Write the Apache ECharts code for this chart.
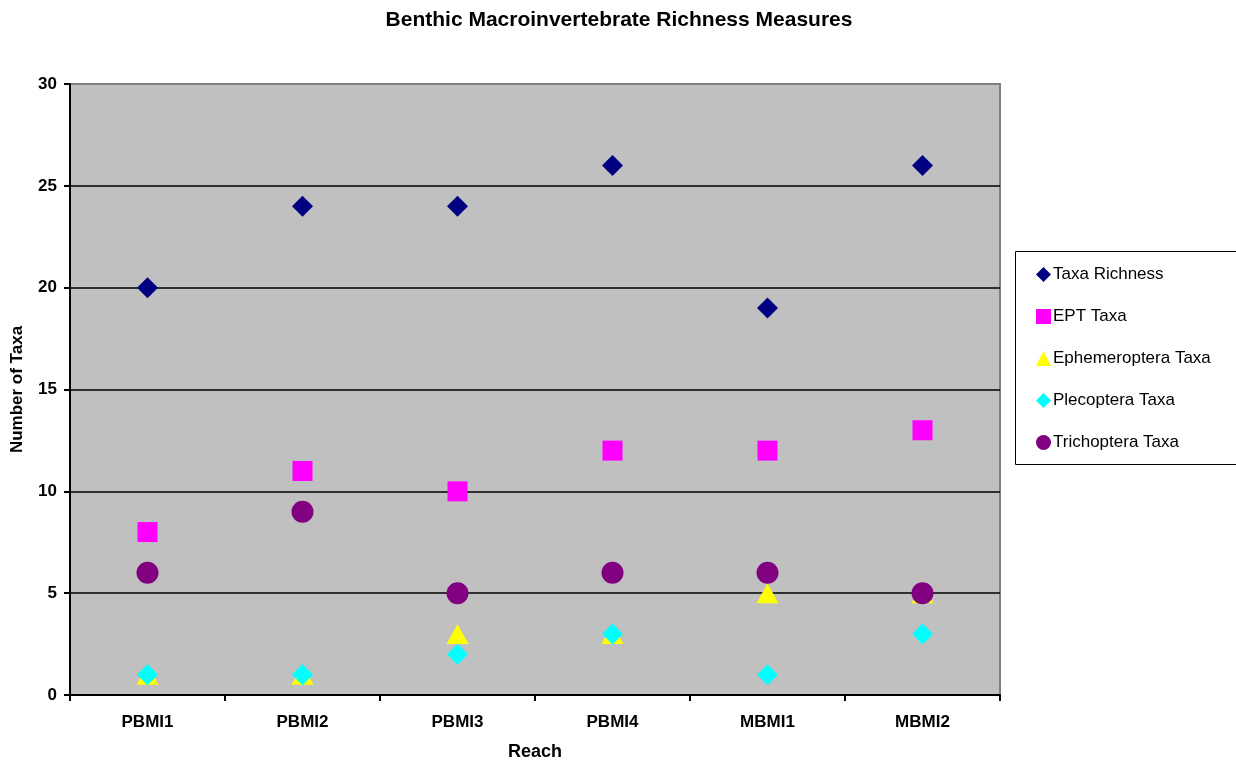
<!DOCTYPE html>
<html><head><meta charset="utf-8">
<script src="https://cdn.jsdelivr.net/npm/echarts@6/dist/echarts.min.js"></script>
<style>html,body{margin:0;padding:0;background:#fff}#c{width:1236px;height:766px}</style>
</head><body><div id="c"></div>
<script>
const categories = ['PBMI1','PBMI2','PBMI3','PBMI4','MBMI1','MBMI2'];
const taxaRichness = [20, 24, 24, 26, 19, 26];
const eptTaxa = [8, 11, 10, 12, 12, 13];
const ephemeropteraTaxa = [1, 1, 3, 3, 5, 5];
const plecopteraTaxa = [1, 1, 2, 3, 1, 3];
const trichopteraTaxa = [6, 9, 5, 6, 6, 5];

const F = 'Liberation Sans, Arial, sans-serif';
const chart = echarts.init(document.getElementById('c'));
function s(name, data, symbol, size, color) {
  return { name, type: 'scatter', data, symbol, symbolSize: size,
    itemStyle: { color, opacity: 1 }, emphasis: { disabled: true } };
}
chart.setOption({
  animation: false,
  title: { text: 'Benthic Macroinvertebrate Richness Measures', left: 614, top: 5, textAlign: 'center',
    textStyle: { fontFamily: F, fontSize: 21, fontWeight: 'bold', color: '#000' } },
  grid: { left: 70, top: 84, width: 930, height: 612, show: true, backgroundColor: '#C0C0C0',
    borderColor: '#808080', borderWidth: 2 },
  graphic: [{ type: 'rect', shape: { x: 1015.5, y: 251.5, width: 230, height: 213 },
    style: { fill: '#fff', stroke: '#000', lineWidth: 1 }, z: -1 }],
  legend: { orient: 'vertical', left: 1031, top: 261, itemGap: 25, itemWidth: 15, itemHeight: 15,
    textStyle: { fontFamily: F, fontSize: 17, color: '#000', padding: [0,0,0,-3] },
    data: ['Taxa Richness','EPT Taxa','Ephemeroptera Taxa','Plecoptera Taxa','Trichoptera Taxa'] },
  xAxis: { type: 'category', data: categories, boundaryGap: true,
    name: 'Reach', nameLocation: 'middle', nameGap: 48,
    nameTextStyle: { fontFamily: F, fontSize: 18, fontWeight: 'bold', color: '#000' },
    axisLine: { lineStyle: { color: '#000', width: 2 } },
    axisTick: { show: true, length: 6, lineStyle: { color: '#000', width: 2 } },
    axisLabel: { fontFamily: F, fontSize: 17, fontWeight: 'bold', color: '#000', margin: 19 },
    splitLine: { show: false } },
  yAxis: { type: 'value', min: 0, max: 30, interval: 5,
    name: 'Number of Taxa', nameLocation: 'middle', nameGap: 44, nameRotate: 90,
    nameTextStyle: { fontFamily: F, fontSize: 17, fontWeight: 'bold', color: '#000' },
    axisLine: { show: true, lineStyle: { color: '#000', width: 2 } },
    axisTick: { show: true, length: 6, lineStyle: { color: '#000', width: 2 } },
    axisLabel: { fontFamily: F, fontSize: 17, fontWeight: 'bold', color: '#000', margin: 13 },
    splitLine: { show: true, showMinLine: false, showMaxLine: false, lineStyle: { color: '#000', width: 1.5 } } },
  series: [
    s('Taxa Richness', taxaRichness, 'diamond', [21, 21], '#000080'),
    s('EPT Taxa', eptTaxa, 'rect', [20, 20], '#FF00FF'),
    s('Ephemeroptera Taxa', ephemeropteraTaxa, 'triangle', [22, 20], '#FFFF00'),
    s('Plecoptera Taxa', plecopteraTaxa, 'diamond', [21, 21], '#00FFFF'),
    s('Trichoptera Taxa', trichopteraTaxa, 'circle', [22, 22], '#800080')
  ]
});
</script></body></html>
